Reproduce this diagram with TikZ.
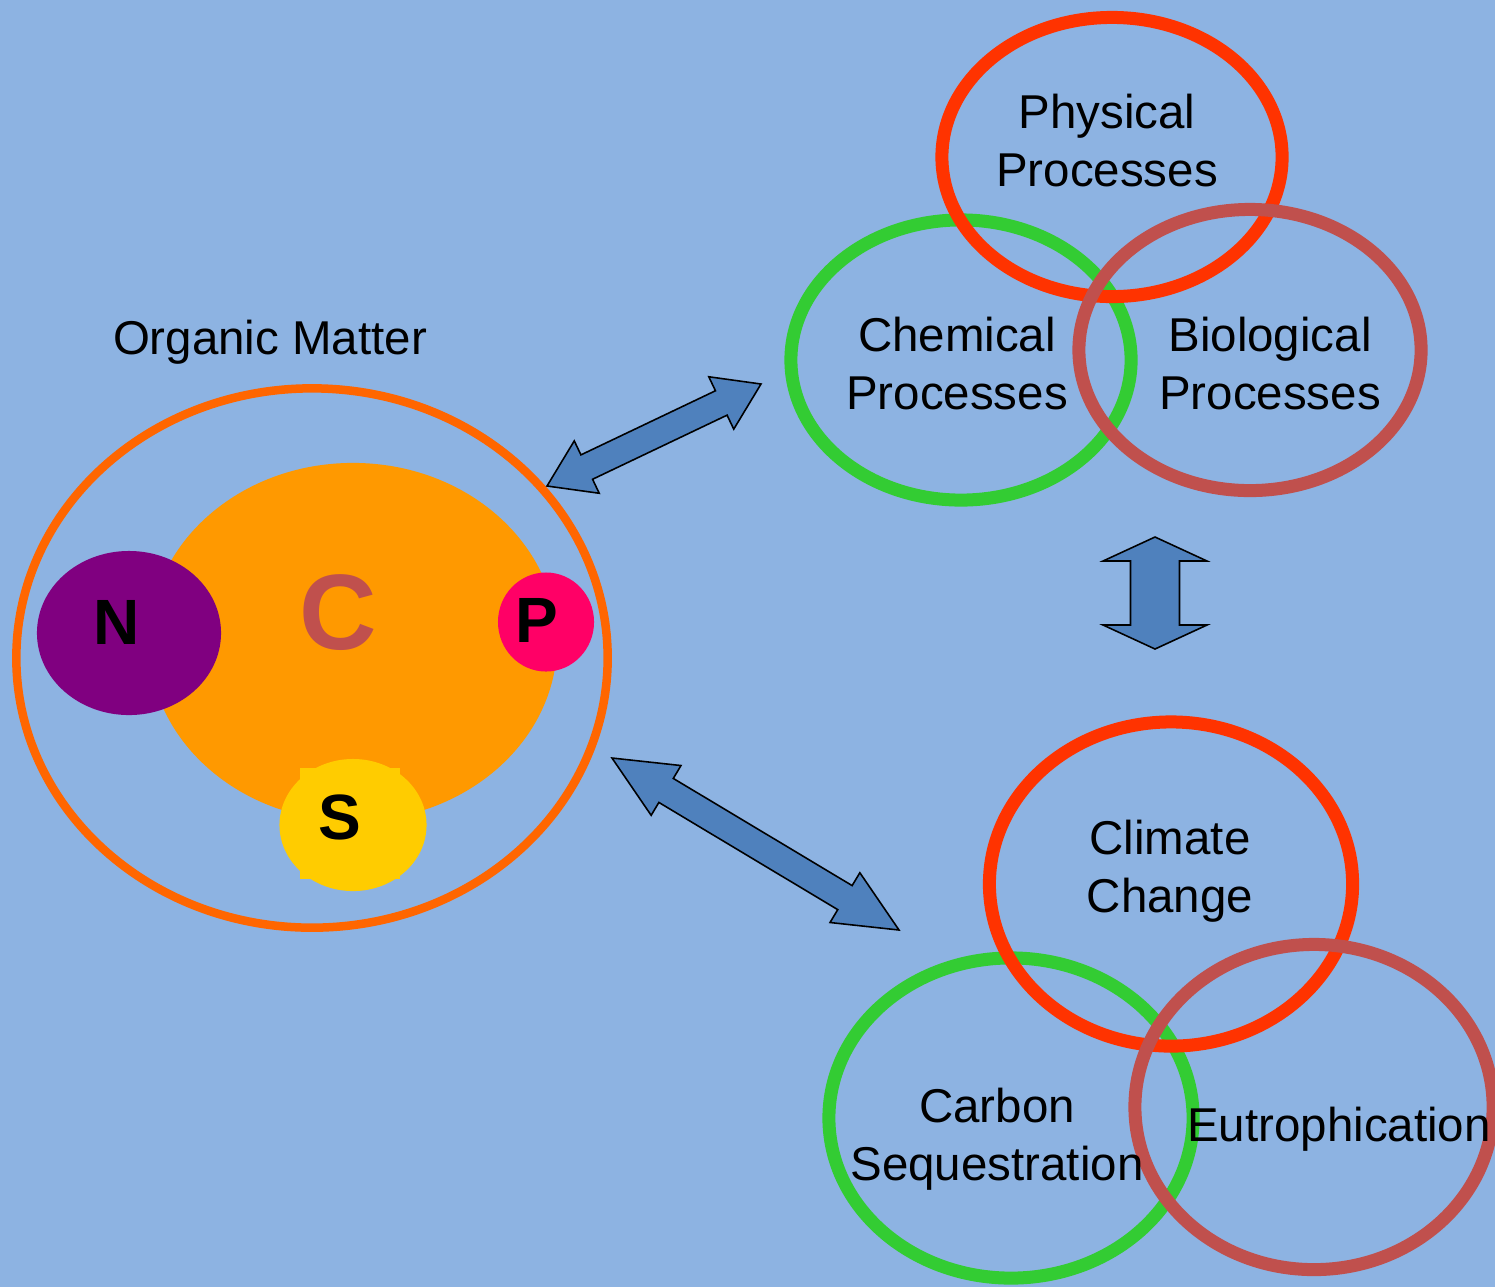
\documentclass[tikz,border=0pt]{standalone}
\usepackage{fontspec}
\setmainfont{Liberation Sans}
\usetikzlibrary{calc,shapes.geometric}

\definecolor{bgblue}{HTML}{8DB3E2}
\definecolor{omorange}{HTML}{FF6600}
\definecolor{corange}{HTML}{FF9900}
\definecolor{npurple}{HTML}{800080}
\definecolor{ppink}{HTML}{FF0066}
\definecolor{sgold}{HTML}{FFCC00}
\definecolor{ringred}{HTML}{FF3300}
\definecolor{ringgreen}{HTML}{33CC33}
\definecolor{ringbrown}{HTML}{C0504D}
\definecolor{arrowblue}{HTML}{4F81BD}

% block arrow with two heads: from, to, half shaft, half head, head length
\newcommand{\blockarrow}[5]{%
  \draw[fat] (#1)
    -- ($(#1)!#5!(#2)!#4!90:(#2)$) -- ($(#1)!#5!(#2)!#3!90:(#2)$)
    -- ($(#2)!#5!(#1)!#3!-90:(#1)$) -- ($(#2)!#5!(#1)!#4!-90:(#1)$)
    -- (#2)
    -- ($(#2)!#5!(#1)!#4!90:(#1)$) -- ($(#2)!#5!(#1)!#3!90:(#1)$)
    -- ($(#1)!#5!(#2)!#3!-90:(#2)$) -- ($(#1)!#5!(#2)!#4!-90:(#2)$)
    -- cycle;}

\begin{document}
\begin{tikzpicture}[x=0.01cm, y=-0.01cm,
    ring/.style = {draw=#1, line width=0.13cm, ellipse, inner sep=0pt},
    disc/.style = {fill=#1, ellipse, inner sep=0pt},
    lbl/.style = {font=\fontsize{13.5}{16.5}\selectfont, align=center, inner sep=0pt},
    elem/.style = {font=\fontsize{18.2}{18.2}\bfseries\selectfont, inner sep=0pt},
    fat/.style = {fill=arrowblue, draw=black, line width=0.45pt, line join=miter}]

  \fill[bgblue] (0,0) rectangle (1495,1287);
  \useasboundingbox (0,0) rectangle (1495,1287);

  % organic matter
  \node[lbl] (omlbl) at (270,342) {Organic Matter};
  \node[ring=omorange, line width=0.085cm, minimum width=5.91cm, minimum height=5.39cm] (om) at (312,658) {};
  \node[disc=corange, minimum width=4.08cm, minimum height=3.58cm] (cdisc) at (353,642) {};
  \node[disc=npurple, minimum width=1.84cm, minimum height=1.64cm] (ndisc) at (129,633) {};
  \node[disc=ppink, minimum width=0.96cm, minimum height=0.99cm] (pdisc) at (546,622) {};
  \fill[sgold] (300,768) rectangle (400,879);
  \node[disc=sgold, minimum width=1.47cm, minimum height=1.32cm] (sdisc) at (353,825) {};

  \node[elem, font=\fontsize{30.5}{30.5}\bfseries\selectfont, text=ringbrown] (c) at (338,613) {C};
  \node[elem] (n) at (117,622) {N};
  \node[elem] (p) at (537,620) {P};
  \node[elem] (s) at (340,817) {S};

  % processes
  \node[ring=ringgreen, minimum width=3.40cm, minimum height=2.80cm] (chemring) at (961,360) {};
  \node[ring=ringred, minimum width=3.40cm, minimum height=2.79cm] (physring) at (1112,157) {};
  \node[ring=ringbrown, minimum width=3.42cm, minimum height=2.81cm] (bioring) at (1250,350) {};
  \node[lbl] (phys) at (1107,141) {Physical\\Processes};
  \node[lbl] (chem) at (957,364) {Chemical\\Processes};
  \node[lbl] (bio) at (1270,364) {Biological\\Processes};

  % impacts
  \node[ring=ringgreen, minimum width=3.64cm, minimum height=3.20cm] (carbring) at (1011,1118) {};
  \node[ring=ringred, minimum width=3.63cm, minimum height=3.24cm] (climring) at (1171,884) {};
  \node[ring=ringbrown, minimum width=3.58cm, minimum height=3.25cm] (eutrring) at (1314,1107) {};
  \node[lbl] (clim) at (1170,871) {Climate\\Change};
  \node[lbl] (carb) at (997,1139) {Carbon\\Sequestration};
  \node[lbl] (eutr) at (1339,1129) {Eutrophication};

  % arrows
  \coordinate (a1) at (547,486);
  \coordinate (a2) at (761,384);
  \coordinate (b1) at (612,758);
  \coordinate (b2) at (899,930);
  \coordinate (v1) at (1155,537);
  \coordinate (v2) at (1155,649);

  \blockarrow{a1}{a2}{0.135cm}{0.29cm}{0.44cm}
  \blockarrow{b1}{b2}{0.14cm}{0.29cm}{0.63cm}
  \blockarrow{v1}{v2}{0.245cm}{0.52cm}{0.24cm}
\end{tikzpicture}
\end{document}
